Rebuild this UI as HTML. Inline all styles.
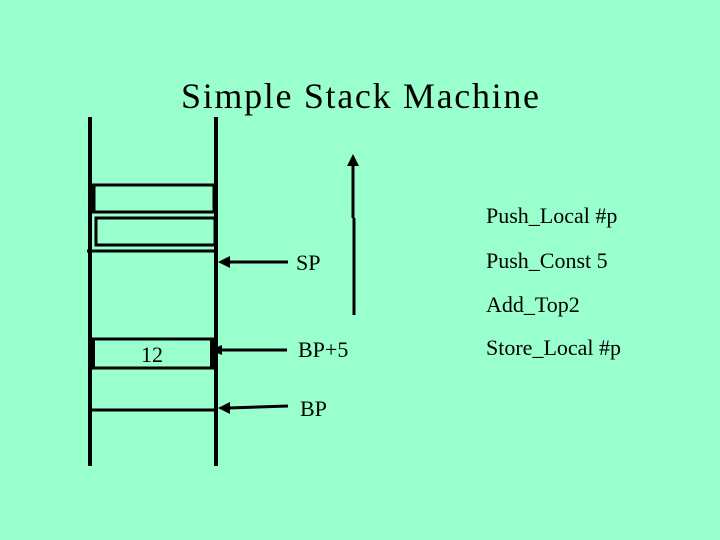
<!DOCTYPE html>
<html><head><style>
html,body{margin:0;padding:0;background:#99ffcc;}
svg{display:block;}
text{font-family:"Liberation Serif",serif;fill:#000;}
</style></head><body>
<svg width="720" height="540" viewBox="0 0 720 540">
<rect width="720" height="540" fill="#99ffcc"/>
<text x="181" y="108" font-size="36" textLength="358">Simple Stack Machine</text>
<g stroke="#000" fill="none">
<line x1="90" y1="117" x2="90" y2="466" stroke-width="4"/>
<line x1="216" y1="117" x2="216" y2="466" stroke-width="4"/>
<rect x="92" y="185" width="122" height="27" stroke-width="3"/>
<line x1="93" y1="185" x2="93" y2="212" stroke-width="5"/>
<rect x="96" y="218" width="119" height="27" stroke-width="3"/>
<line x1="87" y1="251" x2="216" y2="251" stroke-width="3"/>
<rect x="92" y="339" width="122" height="29" stroke-width="3"/>
<line x1="93" y1="339" x2="93" y2="368" stroke-width="4"/>
<line x1="212" y1="339" x2="212" y2="368" stroke-width="4"/>
<line x1="90" y1="410" x2="216" y2="410" stroke-width="3"/>
<line x1="288" y1="262" x2="228" y2="262" stroke-width="3"/>
<line x1="287" y1="350" x2="220" y2="350" stroke-width="3"/>
<line x1="288" y1="406" x2="228" y2="408" stroke-width="3"/>
<line x1="353" y1="165" x2="353" y2="218" stroke-width="3"/>
<line x1="354" y1="218" x2="354" y2="315" stroke-width="3"/>
</g>
<g fill="#000">
<polygon points="218,262 230,256 230,268"/>
<polygon points="210,350 222,345 222,355"/>
<polygon points="218,408 230,402 230,414"/>
<polygon points="353,154 347,166 359,166"/>
</g>
<g font-size="22">
<text x="141" y="362">12</text>
<text x="296" y="270">SP</text>
<text x="298" y="357">BP+5</text>
<text x="300" y="416">BP</text>
<text x="486" y="223">Push_Local #p</text>
<text x="486" y="268">Push_Const 5</text>
<text x="486" y="312">Add_Top2</text>
<text x="486" y="355">Store_Local #p</text>
</g>
</svg>
</body></html>
